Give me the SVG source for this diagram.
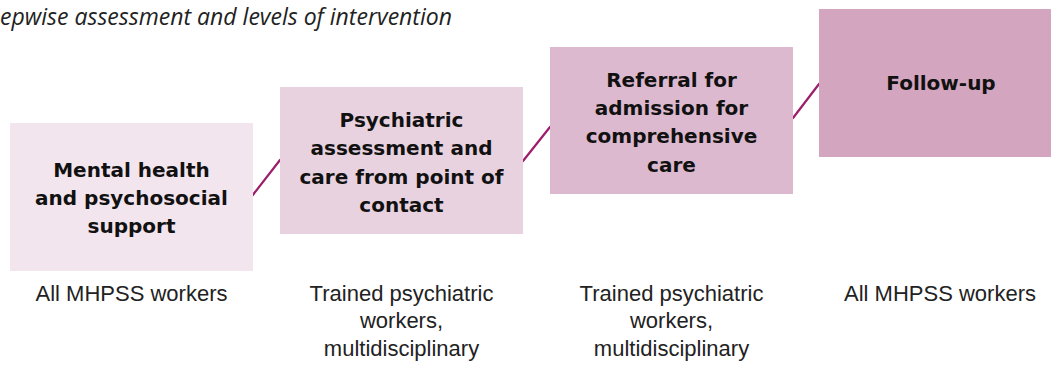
<svg xmlns="http://www.w3.org/2000/svg" width="1051" height="365" viewBox="0 0 1051 365">
  <style>
    .title { font-family: "Open Sans", "Liberation Sans", sans-serif; font-style: italic; font-size: 23px; fill: #222; }
    .label { font-family: "DejaVu Sans", "Liberation Sans", sans-serif; font-weight: bold; font-size: 20px; fill: #111; text-anchor: middle; }
    .role { font-family: "Liberation Sans", Arial, sans-serif; font-size: 22px; fill: #222; text-anchor: middle; }
    .link { stroke: #9b1d6c; stroke-width: 2.2; fill: none; stroke-linecap: round; }
  </style>
  <rect width="1051" height="365" fill="#ffffff"/>

  <text class="title" x="0" y="25" textLength="452" lengthAdjust="spacingAndGlyphs">epwise assessment and levels of intervention</text>

  <!-- connectors between steps -->
  <g id="connectors">
    <line class="link" x1="252" y1="196" x2="280" y2="160"/>
    <line class="link" x1="523" y1="161" x2="550" y2="127"/>
    <line class="link" x1="793" y1="118" x2="819" y2="84"/>
  </g>

  <g id="step1">
    <rect x="10" y="123" width="243" height="148" fill="#f3e5ee"/>
    <text class="label" x="131.5" y="177">Mental health</text>
    <text class="label" x="131.5" y="205">and psychosocial</text>
    <text class="label" x="131.5" y="233">support</text>
    <text class="role" x="131.5" y="301">All MHPSS workers</text>
  </g>

  <g id="step2">
    <rect x="280" y="87" width="243" height="147" fill="#e8d2df"/>
    <text class="label" x="401.5" y="127">Psychiatric</text>
    <text class="label" x="401.5" y="155">assessment and</text>
    <text class="label" x="401.5" y="184">care from point of</text>
    <text class="label" x="401.5" y="212">contact</text>
    <text class="role" x="401.5" y="301">Trained psychiatric</text>
    <text class="role" x="401.5" y="328">workers,</text>
    <text class="role" x="401.5" y="356">multidisciplinary</text>
  </g>

  <g id="step3">
    <rect x="550" y="47" width="243" height="147" fill="#dcb9cf"/>
    <text class="label" x="671.5" y="87">Referral for</text>
    <text class="label" x="671.5" y="115">admission for</text>
    <text class="label" x="671.5" y="143">comprehensive</text>
    <text class="label" x="671.5" y="172">care</text>
    <text class="role" x="671.5" y="301">Trained psychiatric</text>
    <text class="role" x="671.5" y="328">workers,</text>
    <text class="role" x="671.5" y="356">multidisciplinary</text>
  </g>

  <g id="step4">
    <rect x="819" y="9" width="232" height="148" fill="#d3a5bf"/>
    <text class="label" x="941" y="90">Follow-up</text>
    <text class="role" x="940" y="301">All MHPSS workers</text>
  </g>
</svg>
